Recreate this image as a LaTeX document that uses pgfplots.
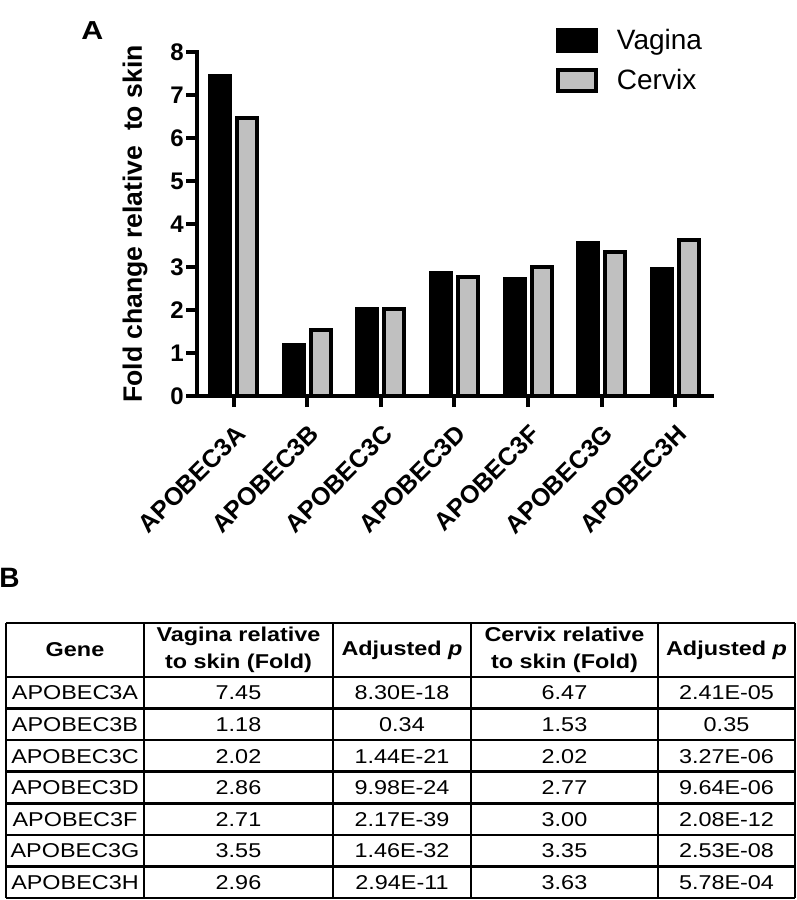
\documentclass[border=0pt]{standalone}
\usepackage{fontspec}
\setmainfont{Liberation Sans}
\newfontfamily\tabfont[FakeStretch=1.17]{Liberation Sans}
\usepackage{pgfplots}
\pgfplotsset{compat=1.18}
\definecolor{cervgray}{RGB}{192,192,192}

\begin{document}
\begin{tikzpicture}[px/.style={x=0.5pt,y=-0.5pt}]
\path[px,use as bounding box] (0,0) rectangle (797,900);

% panel labels
\node[px,font=\tabfont\fontsize{13}{15}\selectfont\bfseries,anchor=base west,inner sep=0pt] at (81,39) {A};
\node[px,font=\fontsize{14}{16}\selectfont\bfseries,anchor=base west,inner sep=0pt] at (-1,587) {B};

\begin{axis}[
    at={(98.5pt,-198pt)}, anchor=south west,
    scale only axis, width=257.5pt, height=172pt,
    xmin=-0.5, xmax=6.5, ymin=0, ymax=8,
    enlargelimits=false,
    axis x line=bottom, axis y line=left,
    axis line style={-, line width=2pt, line cap=rect},
    xtick={0,...,6}, ytick={0,...,8},
    xticklabels={APOBEC3A,APOBEC3B,APOBEC3C,APOBEC3D,APOBEC3F,APOBEC3G,APOBEC3H},
    tick align=outside, major tick length=5.5pt,
    tick style={line width=2pt, black},
    /pgf/number format/assume math mode=true,
    yticklabel style={font=\fontsize{12}{14}\selectfont\bfseries, inner sep=1pt},
    xticklabel style={font=\fontsize{12.5}{14}\selectfont\bfseries, rotate=45, anchor=north east,
        inner sep=1pt, xshift=-4.5pt, yshift=-5pt},
    ylabel={Fold change relative\ \ to skin},
    ylabel style={at={(axis description cs:-0.107,0.5)}, anchor=base, font=\fontsize{13.3}{16}\selectfont\bfseries},
    legend style={at={(rel axis cs:0.697,1.07)}, anchor=north west, draw=none, fill=none,
        inner sep=0pt, outer sep=0pt, row sep=7.5pt,
        font=\fontsize{14}{16}\selectfont, nodes={inner sep=0pt, anchor=west},
        /tikz/every odd column/.append style={column sep=9.5pt}},
    legend cell align=left,
    boxleg/.style={legend image code/.code={\draw[##1, line width=2pt] (1pt,-5.25pt) rectangle (20pt,5.25pt);}},
]
\addplot[ybar, bar width=10pt, bar shift=-6.75pt, fill=black, draw=black, line width=2pt, boxleg]
    coordinates {(0,7.45) (1,1.18) (2,2.02) (3,2.86) (4,2.71) (5,3.55) (6,2.96)};
\addplot[ybar, bar width=10pt, bar shift=6.75pt, fill=cervgray, draw=black, line width=2pt, boxleg]
    coordinates {(0,6.47) (1,1.53) (2,2.02) (3,2.77) (4,3.00) (5,3.35) (6,3.63)};
\legend{Vagina, Cervix}
\end{axis}

% table B
\begin{scope}[px]
\foreach \y in {623,677,708.6,740.1,771.7,803.3,834.9,866.4,898}
    \draw[line width=1.25pt] (6,\y) -- (795,\y);
\foreach \x in {6,144,333,471,658,795}
    \draw[line width=1.25pt] (\x,623) -- (\x,898);
\begin{scope}[every node/.style={font=\tabfont\fontsize{10}{13.35}\selectfont\bfseries, align=center, inner sep=0pt}]
\node at (75,650) {Gene};
\node at (238.5,650) {Vagina relative\\to skin (Fold)};
\node at (402,650) {Adjusted \textit{p}};
\node at (564.5,650) {Cervix relative\\to skin (Fold)};
\node at (726.5,650) {Adjusted \textit{p}};
\end{scope}
\begin{scope}[every node/.style={font=\tabfont\fontsize{10}{12}\selectfont, inner sep=0pt, text height=0.72em, text depth=0pt}]
\foreach \g/\a/\b/\c/\d [count=\i] in {
    APOBEC3A/7.45/8.30E-18/6.47/2.41E-05,
    APOBEC3B/1.18/0.34/1.53/0.35,
    APOBEC3C/2.02/1.44E-21/2.02/3.27E-06,
    APOBEC3D/2.86/9.98E-24/2.77/9.64E-06,
    APOBEC3F/2.71/2.17E-39/3.00/2.08E-12,
    APOBEC3G/3.55/1.46E-32/3.35/2.53E-08,
    APOBEC3H/2.96/2.94E-11/3.63/5.78E-04} {
  \pgfmathsetmacro{\yy}{677+31.57*(\i-0.5)}
  \node at (75,\yy) {\g};
  \node at (238.5,\yy) {\a};
  \node at (402,\yy) {\b};
  \node at (564.5,\yy) {\c};
  \node at (726.5,\yy) {\d};
}
\end{scope}
\end{scope}
\end{tikzpicture}
\end{document}
